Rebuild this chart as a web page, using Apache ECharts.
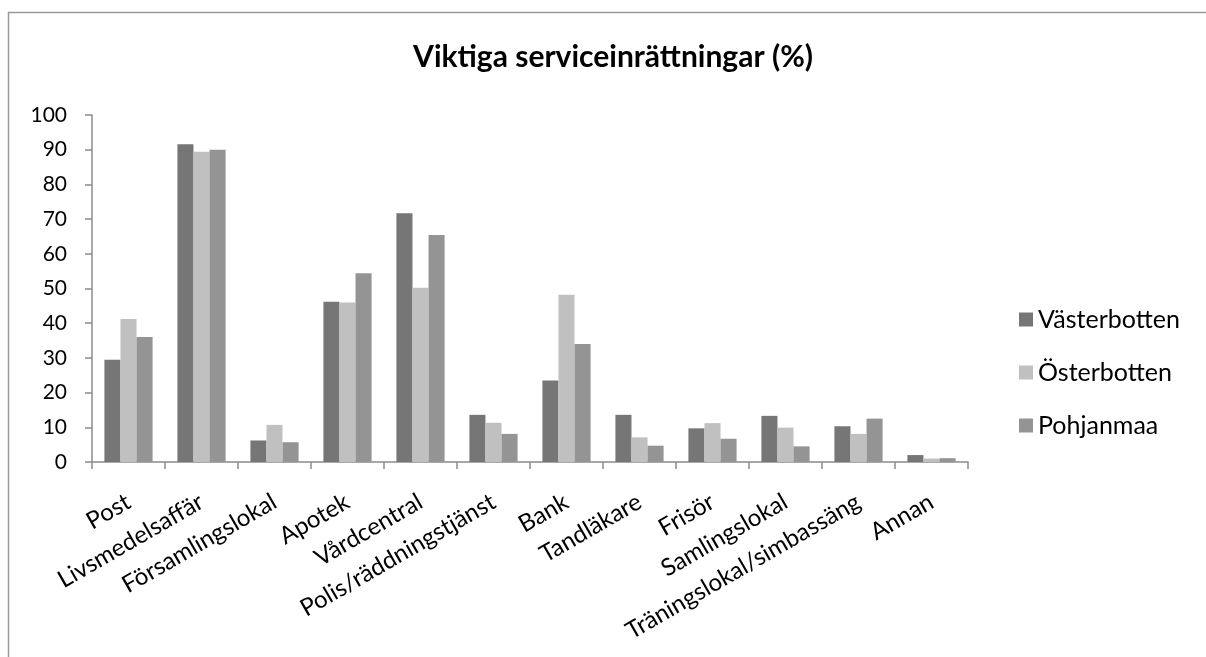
<!DOCTYPE html>
<html>
<head>
<meta charset="utf-8">
<script src="https://cdn.jsdelivr.net/npm/echarts@6/dist/echarts.min.js"></script>
<style>
  html, body { margin: 0; padding: 0; background: #fff; }
  #chart { width: 1206px; height: 657px; }
</style>
</head>
<body>
<div id="chart"></div>
<script>
// Categories of service facilities
const categories = [
  'Post', 'Livsmedelsaffär', 'Församlingslokal', 'Apotek', 'Vårdcentral',
  'Polis/räddningstjänst', 'Bank', 'Tandläkare', 'Frisör', 'Samlingslokal',
  'Träningslokal/simbassäng', 'Annan'
];

// Share (%) per region
const vasterbotten = [29.5, 91.6, 6.2, 46.2, 71.7, 13.6, 23.5, 13.6, 9.7, 13.3, 10.3, 2.0];
const osterbotten  = [41.2, 89.4, 10.7, 46.0, 50.2, 11.3, 48.2, 7.1, 11.2, 9.9, 8.1, 1.0];
const pohjanmaa    = [36.0, 90.0, 5.7, 54.4, 65.4, 8.1, 34.0, 4.7, 6.7, 4.5, 12.5, 1.1];

const seriesNames = ['Västerbotten', 'Österbotten', 'Pohjanmaa'];
const yTicks = { min: 0, max: 100, interval: 10 };

const FONT = 'Lato, "Open Sans", sans-serif';
const AXIS_COLOR = '#8c8c8c';

const chart = echarts.init(document.getElementById('chart'), null, { renderer: 'canvas' });

const barSeries = (name, data, color) => ({
  name,
  type: 'bar',
  data,
  barGap: '0%',
  barCategoryGap: '34%',
  itemStyle: { color },
  emphasis: { disabled: true }
});

chart.setOption({
  animation: false,
  backgroundColor: '#fff',
  title: {
    text: 'Viktiga serviceinrättningar (%)',
    left: 613,
    textAlign: 'center',
    top: 42,
    padding: 0,
    textStyle: { fontFamily: FONT, fontSize: 30, fontWeight: 'bold', color: '#000' }
  },
  legend: {
    orient: 'vertical',
    left: 1019,
    top: 307,
    padding: 0,
    itemWidth: 14,
    itemHeight: 14,
    itemGap: 28,
    icon: 'rect',
    textStyle: { fontFamily: FONT, fontSize: 25, color: '#000' },
    data: seriesNames
  },
  grid: { left: 92, right: 238, top: 115, bottom: 195, containLabel: false },
  xAxis: {
    type: 'category',
    data: categories,
    axisLine: { lineStyle: { color: AXIS_COLOR, width: 1.5 } },
    axisTick: { show: true, length: 7, lineStyle: { color: AXIS_COLOR, width: 1.5 } },
    axisLabel: {
      interval: 0,
      rotate: 30,
      margin: 38,
      fontFamily: FONT,
      fontSize: 24,
      color: '#000'
    },
    splitLine: { show: false }
  },
  yAxis: {
    type: 'value',
    min: yTicks.min,
    max: yTicks.max,
    interval: yTicks.interval,
    axisLine: { show: true, lineStyle: { color: AXIS_COLOR, width: 1.5 } },
    axisTick: { show: true, length: 7, lineStyle: { color: AXIS_COLOR, width: 1.5 } },
    axisLabel: { margin: 25, fontFamily: FONT, fontSize: 21, color: '#000' },
    splitLine: { show: false }
  },
  series: [
    barSeries(seriesNames[0], vasterbotten, '#767676'),
    barSeries(seriesNames[1], osterbotten, '#c0c0c0'),
    barSeries(seriesNames[2], pohjanmaa, '#949494')
  ],
  graphic: [{
    type: 'rect',
    silent: true,
    shape: { x: 8.5, y: 12.5, width: 1400, height: 900 },
    style: { fill: 'none', stroke: '#9a9a9a', lineWidth: 1.5 }
  }]
});
</script>
</body>
</html>
